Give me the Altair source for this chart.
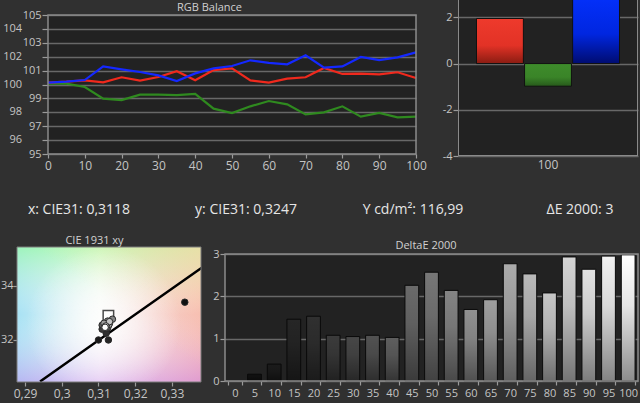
import altair as alt
import pandas as pd

FONT = "Open Sans"
BG = "#303030"
PLOT_BG = "#222222"
FRAME = "#8a8a8a"
GRID = "#686868"
LABEL = "#c4c4c4"
TITLE_C = "#d0d0d0"

# ---------------- data ----------------
levels = list(range(0, 105, 5))
red_vals = [100.13, 100.20, 100.30, 100.16, 100.52, 100.28, 100.54, 100.95, 100.30, 101.04, 101.16,
            100.30, 100.13, 100.42, 100.52, 101.19, 100.76, 100.78, 100.73, 100.88, 100.47]
green_vals = [100.06, 100.06, 99.82, 98.98, 98.88, 99.27, 99.27, 99.24, 99.32, 98.26, 97.95,
              98.43, 98.81, 98.57, 97.85, 98.00, 98.43, 97.69, 97.95, 97.64, 97.69]
blue_vals = [100.13, 100.20, 100.32, 101.30, 101.09, 100.90, 100.66, 100.25, 100.80, 101.16, 101.33,
             101.74, 101.55, 101.45, 102.10, 101.21, 101.30, 101.98, 101.76, 101.95, 102.31]
rgb_ticks = list(range(95, 106))
rgb_even_ticks = [96, 98, 100, 102, 104]

bar_channels = ["R", "G", "B"]
bar_values = [1.95, -0.98, 3.2]
bar_level = "100"

info_labels = ["x: CIE31: 0,3118", "y: CIE31: 0,3247", "Y cd/m²: 116,99", "ΔE 2000: 3"]
titles = {"rgb": "RGB Balance", "cie": "CIE 1931 xy", "de": "DeltaE 2000"}

cie_levels = levels[1:]
cie_x = [0.3335, 0.3100, 0.3127, 0.3121, 0.3110, 0.3115, 0.3125, 0.3110, 0.3130, 0.3120,
         0.3138, 0.3125, 0.3115, 0.3128, 0.3122, 0.3130, 0.3116, 0.3120, 0.3117, 0.3118]
cie_y = [0.3340, 0.3200, 0.3200, 0.3225, 0.3240, 0.3250, 0.3245, 0.3255, 0.3262, 0.3258,
         0.3277, 0.3270, 0.3262, 0.3255, 0.3250, 0.3268, 0.3248, 0.3252, 0.3246, 0.3247]
target_x = [0.3127]
target_y = [0.3290]
locus_x = [0.2941, 0.3135, 0.3390]
locus_y = [0.3046, 0.3232, 0.3476]

deltae_vals = [0.0, 0.16, 0.40, 1.46, 1.53, 1.08, 1.05, 1.08, 1.03, 2.26, 2.57,
               2.14, 1.69, 1.92, 2.77, 2.53, 2.08, 2.93, 2.64, 2.95, 2.98]

one = pd.DataFrame({"a": [0]})


def spacer(w, h):
    return alt.Chart(one).mark_point(opacity=0, size=1).encode(
        x=alt.value(w / 2), y=alt.value(h / 2)
    ).properties(width=w, height=h)


def title_text(text, x, y):
    return alt.Chart(one).mark_text(
        text=text, font=FONT, fontSize=11, color=TITLE_C, align="center", baseline="middle"
    ).encode(x=alt.value(x), y=alt.value(y))


# ---------------- RGB balance ----------------
RGB_TOP = 95 + 154 / 13.9   # band above 105 holds the panel title
rgb_df = pd.DataFrame({
    "level": levels * 3,
    "value": green_vals + red_vals + blue_vals,
    "ch": ["G"] * 21 + ["R"] * 21 + ["B"] * 21,
})
rgb_xs = alt.Scale(domain=[0, 100], nice=False)
rgb_xa = alt.Axis(values=list(range(0, 101, 10)), title=None, grid=False, domain=False,
                  tickSize=4, labelPadding=2, labelFontSize=12, labelFlush=False,
                  labelOverlap=False, labelBound=False)
rgb_ys = alt.Scale(domain=[95, RGB_TOP], nice=False, zero=False)
# odd values labelled by the axis, even values by a staggered label layer
rgb_ya = alt.Axis(values=rgb_ticks, title=None, grid=True, domain=False,
                  tickSize=6, labelPadding=1, labelFontSize=11, labelOverlap=False,
                  labelFlush=False, labelBound=False,
                  labelExpr="datum.value % 2 == 0 ? '' : datum.label")
rgb_lines = alt.Chart(rgb_df).mark_line(strokeWidth=2.2).encode(
    x=alt.X("level:Q", scale=rgb_xs, axis=rgb_xa),
    y=alt.Y("value:Q", scale=rgb_ys, axis=rgb_ya),
    color=alt.Color("ch:N", scale=alt.Scale(domain=["G", "R", "B"],
                                            range=["#2f8a1f", "#f0291d", "#1428ff"]), legend=None),
)
rgb_even = alt.Chart(pd.DataFrame({"v": rgb_even_ticks})).mark_text(
    font=FONT, fontSize=11, color=LABEL, align="right", baseline="middle"
).encode(x=alt.value(-26), y=alt.Y("v:Q", scale=rgb_ys, axis=rgb_ya), text="v:Q")
rgb_cover = alt.Chart(one).mark_rect(color=BG).encode(
    x=alt.value(-1), x2=alt.value("width"),
    y=alt.Y(datum=105, scale=rgb_ys, axis=rgb_ya), y2=alt.datum(RGB_TOP))
rgb_frame = alt.Chart(one).mark_rect(fillOpacity=0, stroke=FRAME, strokeWidth=1.5).encode(
    x=alt.value(0), x2=alt.value("width"),
    y=alt.Y(datum=95, scale=rgb_ys, axis=rgb_ya), y2=alt.datum(105))
rgb = alt.layer(rgb_lines, rgb_cover, rgb_frame, rgb_even,
                title_text(titles["rgb"], 161.5, 8)).properties(
    width=368, height=154, view=alt.ViewBackground(fill=PLOT_BG, stroke=None))

# ---------------- RGB deviation bars ----------------
bars_df = pd.DataFrame({"level": [bar_level] * 3, "ch": bar_channels, "value": bar_values})
grads = {
    "R": ["#ee3a2c", "#e23226", "#8a1c12"],
    "G": ["#3e8c2b", "#3a8428", "#275a1b"],
    "B": ["#0432ff", "#0026e0", "#000c70"],
}
bar_ys = alt.Scale(domain=[-4, 2.75], nice=False)
bar_ya = alt.Axis(values=[-4, -2, 0, 2], title=None, grid=True, domain=False, tickSize=5,
                  labelPadding=1, labelFontSize=11, labelFlush=False, labelOverlap=False,
                  labelExpr="replace(datum.label, '\u2212', '-')")
bar_base = alt.Chart(bars_df).encode(
    x=alt.X("level:N", scale=alt.Scale(paddingInner=0, paddingOuter=0.1294),
            axis=alt.Axis(title=None, ticks=False, domain=False, labelAngle=0, labelPadding=3,
                          labelFontSize=12)),
    xOffset=alt.XOffset("ch:N", scale=alt.Scale(domain=bar_channels, paddingInner=0.025)),
    y=alt.Y("value:Q", scale=bar_ys, axis=bar_ya),
)
bar_layers = []
for ch in bar_channels:
    c = grads[ch]
    bar_layers.append(
        bar_base.transform_filter(alt.datum.ch == ch).mark_bar(
            clip=True, stroke="#111111", strokeWidth=1,
            fill=alt.LinearGradient(gradient="linear", x1=0, y1=0, x2=0, y2=1,
                                    stops=[alt.GradientStop(color=c[0], offset=0),
                                           alt.GradientStop(color=c[1], offset=0.6),
                                           alt.GradientStop(color=c[2], offset=1)]))
    )
bar_frame = alt.Chart(one).mark_rect(fillOpacity=0, stroke=FRAME, strokeWidth=2, clip=True).encode(
    x=alt.value(0), x2=alt.value("width"),
    y=alt.Y(datum=-4, scale=bar_ys, axis=bar_ya), y2=alt.datum(4))
bars = alt.layer(*bar_layers, bar_frame).properties(
    width=180, height=156, view=alt.ViewBackground(fill=PLOT_BG, stroke=None))

# ---------------- info row ----------------
info = alt.Chart(pd.DataFrame({"label": info_labels})).mark_text(
    font=FONT, fontSize=14, color="#e6e6e6", align="center", baseline="middle", dy=3.5
).encode(
    x=alt.X("label:N", sort=info_labels, scale=alt.Scale(padding=0), axis=None),
    text="label:N",
).properties(width=501, height=52)

# ---------------- CIE 1931 xy ----------------
CIE_BOT = 0.30444
CIE_PLOT_TOP = 0.35444
CIE_TOP = CIE_PLOT_TOP + 15 / 2700   # band above the plot holds the panel title
xsc = alt.Scale(domain=[0.28782, 0.33791], nice=False, zero=False)
ysc = alt.Scale(domain=[CIE_BOT, CIE_TOP], nice=False, zero=False)
xax = alt.Axis(values=[0.29, 0.30, 0.31, 0.32, 0.33], title=None, grid=False, domain=False,
               tickSize=4, labelPadding=2, labelFontSize=12, labelFlush=False, labelOverlap=False,
               labelExpr="replace(format(datum.value, '.2~f'), '.', ',')")
yax = alt.Axis(values=[0.32, 0.34], title=None, grid=False, domain=False, tickSize=4,
               labelPadding=0, labelFontSize=11, labelFlush=False, labelOverlap=False,
               labelExpr="format(datum.value * 100, '.0f')")


def cie_rect(fill, **kw):
    return alt.Chart(one).mark_rect(fill=fill, **kw).encode(
        x=alt.value(0), x2=alt.value("width"),
        y=alt.Y(datum=CIE_BOT, scale=ysc, axis=yax), y2=alt.datum(CIE_PLOT_TOP))


bg_h = cie_rect(alt.LinearGradient(
    gradient="linear", x1=0, y1=0, x2=1, y2=0,
    stops=[alt.GradientStop(color="#a8e2f4", offset=0),
           alt.GradientStop(color="#f6f8f4", offset=0.45),
           alt.GradientStop(color="#f4b0b4", offset=1)]))
bg_v = cie_rect(alt.LinearGradient(
    gradient="linear", x1=0, y1=0, x2=0, y2=1,
    stops=[alt.GradientStop(color="rgba(150,255,150,0.6)", offset=0),
           alt.GradientStop(color="rgba(255,255,255,0)", offset=0.5),
           alt.GradientStop(color="rgba(200,130,240,0.45)", offset=1)]))
bg_tr = cie_rect(alt.LinearGradient(
    gradient="linear", x1=0.55, y1=0.45, x2=1, y2=0,
    stops=[alt.GradientStop(color="rgba(255,230,170,0)", offset=0),
           alt.GradientStop(color="rgba(255,225,170,0.65)", offset=1)]))
bg_r = cie_rect(alt.RadialGradient(
    gradient="radial", x1=0.47, y1=0.55, r1=0, x2=0.47, y2=0.55, r2=0.42,
    stops=[alt.GradientStop(color="rgba(255,255,255,0.85)", offset=0),
           alt.GradientStop(color="rgba(255,255,255,0)", offset=1)]))
cie_frame = cie_rect("transparent", fillOpacity=0, stroke="#7a7a7a", strokeWidth=1)

locus = alt.Chart(pd.DataFrame({"x": locus_x, "y": locus_y})).mark_line(
    color="#000000", strokeWidth=2.4, clip=True).encode(
    x=alt.X("x:Q", scale=xsc, axis=xax), y=alt.Y("y:Q", scale=ysc, axis=yax))
target = alt.Chart(pd.DataFrame({"x": target_x, "y": target_y})).mark_square(
    size=110, filled=True, color="#ffffff", stroke="#000000", strokeWidth=1.5).encode(
    x=alt.X("x:Q", scale=xsc, axis=xax), y=alt.Y("y:Q", scale=ysc, axis=yax))
pts = alt.Chart(pd.DataFrame({"level": cie_levels, "x": cie_x, "y": cie_y})).mark_circle(
    size=42, opacity=1, stroke="#2a2a2a", strokeWidth=1).encode(
    x=alt.X("x:Q", scale=xsc, axis=xax), y=alt.Y("y:Q", scale=ysc, axis=yax),
    fill=alt.Fill("level:Q", scale=alt.Scale(domain=[0, 100], range=["#000000", "#ffffff"]),
                  legend=None))
cie = alt.layer(bg_h, bg_v, bg_tr, bg_r, locus, target, pts, cie_frame,
                title_text(titles["cie"], 77.5, 8.7)).properties(
    width=184, height=150, view=alt.ViewBackground(fill=None, stroke=None))

# ---------------- DeltaE 2000 ----------------
DE_TOP = 3 + 22 / (127 / 3)   # band above 3 holds the panel title
level_names = [str(l) for l in levels]
de_df = pd.DataFrame({"level": level_names, "lvl": levels, "value": deltae_vals})
de_ys = alt.Scale(domain=[0, DE_TOP], nice=False)
de_ya = alt.Axis(values=[0, 1, 2, 3], title=None, grid=True, domain=False, tickSize=5,
                 labelPadding=1, labelFontSize=11, labelFlush=False, labelOverlap=False)
de_x = alt.X("level:N", scale=alt.Scale(domain=level_names, paddingInner=0.3, paddingOuter=0.15),
             axis=alt.Axis(title=None, labelAngle=0, tickBand="extent", domain=False, tickSize=4,
                           labelPadding=2, labelFontSize=11, labelOverlap=False))
de_base = alt.Chart(de_df).transform_filter(alt.datum.value > 0).encode(
    x=de_x, y=alt.Y("value:Q", scale=de_ys, axis=de_ya))
de_fill = de_base.mark_bar(strokeWidth=0).encode(
    fill=alt.Fill("lvl:Q", scale=alt.Scale(domain=[0, 100], range=["#1e1e1e", "#ffffff"]),
                  legend=None))
de_shade = de_base.mark_bar(stroke="#0a0a0a", strokeWidth=1, fill=alt.LinearGradient(
    gradient="linear", x1=0, y1=0, x2=0, y2=1,
    stops=[alt.GradientStop(color="rgba(0,0,0,0)", offset=0),
           alt.GradientStop(color="rgba(0,0,0,0.1)", offset=0.4),
           alt.GradientStop(color="rgba(0,0,0,0.45)", offset=1)]))
de_cover = alt.Chart(one).mark_rect(color=BG).encode(
    x=alt.value(-1), x2=alt.value("width"),
    y=alt.Y(datum=3, scale=de_ys, axis=de_ya), y2=alt.datum(DE_TOP))
de_frame = alt.Chart(one).mark_rect(fillOpacity=0, stroke=FRAME, strokeWidth=1.5).encode(
    x=alt.value(0), x2=alt.value("width"),
    y=alt.Y(datum=0, scale=de_ys, axis=de_ya), y2=alt.datum(3))
deltae = alt.layer(de_fill, de_shade, de_cover, de_frame,
                   title_text(titles["de"], 201, 13.7)).properties(
    width=413, height=149, view=alt.ViewBackground(fill=PLOT_BG, stroke=None))

# ---------------- layout ----------------
row1 = alt.hconcat(spacer(48, 180), rgb, spacer(42, 10), bars, spacer(2, 10),
                   spacing=0, bounds="flush")
row2 = alt.hconcat(spacer(79, 52), info, spacing=0, bounds="flush")
row3 = alt.hconcat(spacer(17, 171), cie, spacer(24, 10), deltae, spacer(2, 10),
                   spacing=0, bounds="flush")

chart = alt.vconcat(row1, row2, row3, spacing=0).properties(
    padding=0, background=BG
).configure_view(stroke=None).configure_axis(
    labelFont=FONT, labelColor=LABEL, tickColor="#9a9a9a", tickWidth=1.2,
    gridColor=GRID, gridWidth=1.5, domainColor=FRAME
)

chart.save("out.html", embed_options={"renderer": "svg", "actions": False})
